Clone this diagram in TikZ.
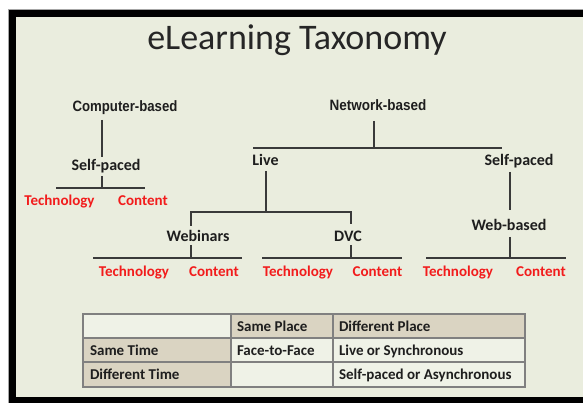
\documentclass[tikz,border=0pt]{standalone}
\usepackage{fontspec}
\setmainfont{Carlito}
\newfontfamily\arialfont{Liberation Sans}
\definecolor{slidebg}{HTML}{EAEDDE}
\definecolor{tancell}{HTML}{DAD4C2}
\definecolor{lightcell}{HTML}{EFF2E7}
\definecolor{gridgray}{HTML}{808080}
\definecolor{treeline}{HTML}{3A3A3A}
\definecolor{labelred}{HTML}{F21C1C}
\definecolor{labeldark}{HTML}{1E1E1E}
\begin{document}
\begin{tikzpicture}[x=1pt,y=-1pt,
  every node/.style={inner sep=0pt,outer sep=0pt},
  catlabel/.style={anchor=base,text=labeldark,font=\bfseries\fontsize{16}{18}\selectfont},
  rootlabel/.style={anchor=base,text=labeldark,font=\arialfont\bfseries\fontsize{15}{17}\selectfont},
  leaflabel/.style={anchor=base,text=labelred,font=\bfseries\fontsize{15}{17}\selectfont},
  cellstyle/.style={anchor=base west,text=labeldark,font=\bfseries\fontsize{15}{17}\selectfont},
  branch/.style={draw=treeline,line width=1.5pt},
  grid/.style={draw=gridgray,line width=1.2pt}]
\useasboundingbox (0,0) rectangle (583,403);
\fill[white] (0,0) rectangle (583,403);

% slide frame
\fill[gray!70] (8,9) rectangle (583,403);
\fill[black] (9,10.5) rectangle (583,403);
\fill[slidebg] (16,17) rectangle (583,397);

% title
\node[anchor=base,text=black!85,font=\fontsize{36}{40}\selectfont] (title) at (297,50) {eLearning Taxonomy};

% computer-based branch
\node[rootlabel] (cb) at (125,112) {\scalebox{0.88}[1]{Computer-based}};
\node[catlabel] (sp1) at (106,171) {Self-paced};
\node[leaflabel] (t1) at (59.5,206) {Technology};
\node[leaflabel] (c1) at (143,206) {Content};
\coordinate (j1) at (102,188);
\draw[branch] (102,120) -- (102,157);
\draw[branch] (102,176) -- (j1);
\draw[branch] (56,188) -- (j1) -- (145,188);

% network-based branch
\node[rootlabel] (nb) at (378,111) {\scalebox{0.9}[1]{Network-based}};
\node[catlabel] (live) at (265.5,166) {Live};
\node[catlabel] (sp2) at (519,166) {Self-paced};
\coordinate (j2) at (374,148);
\draw[branch] (374,121) -- (j2);
\draw[branch] (253,148) -- (j2) -- (502,148);

% live: webinars and DVC
\node[catlabel] (web) at (198,242) {Webinars};
\node[catlabel] (dvc) at (348,242) {DVC};
\coordinate (j3) at (266,212);
\draw[branch] (266,171) -- (j3);
\draw[branch] (191,226) -- (191,212) -- (j3) -- (351,212) -- (351,224);

\node[leaflabel] (t2) at (134,276) {Technology};
\node[leaflabel] (c2) at (214,276) {Content};
\coordinate (j4) at (191,258);
\draw[branch] (191,245) -- (j4);
\draw[branch] (93,258) -- (j4) -- (242,258);

\node[leaflabel] (t3) at (298,276) {Technology};
\node[leaflabel] (c3) at (377.5,276) {Content};
\coordinate (j5) at (351,258);
\draw[branch] (351,245) -- (j5);
\draw[branch] (262,258) -- (j5) -- (402,258);

% self-paced: web-based
\node[catlabel] (wb) at (509,231) {Web-based};
\draw[branch] (510,172) -- (510,210);
\node[leaflabel] (t4) at (458,276) {Technology};
\node[leaflabel] (c4) at (541,276) {Content};
\coordinate (j6) at (510,258);
\draw[branch] (510,237) -- (j6);
\draw[branch] (426,258) -- (j6) -- (566,258);

% place / time table
\fill[lightcell] (83,314) rectangle (525,387);
\fill[tancell] (231,314) rectangle (525,338);
\fill[tancell] (83,338) rectangle (231,387);
\draw[grid] (83,314) rectangle (525,387);
\draw[grid] (83,338) -- (525,338);
\draw[grid] (83,362) -- (525,362);
\draw[grid] (231,314) -- (231,387);
\draw[grid] (333,314) -- (333,387);

\node[cellstyle] (h1) at (237,331) {Same Place};
\node[cellstyle] (h2) at (339,331) {Different Place};
\node[cellstyle] (r1) at (90,355) {Same Time};
\node[cellstyle] (r1a) at (237,355) {Face-to-Face};
\node[cellstyle] (r1b) at (339,355) {Live or Synchronous};
\node[cellstyle] (r2) at (90,379) {Different Time};
\node[cellstyle] (r2b) at (339,379) {Self-paced or Asynchronous};
\end{tikzpicture}
\end{document}
